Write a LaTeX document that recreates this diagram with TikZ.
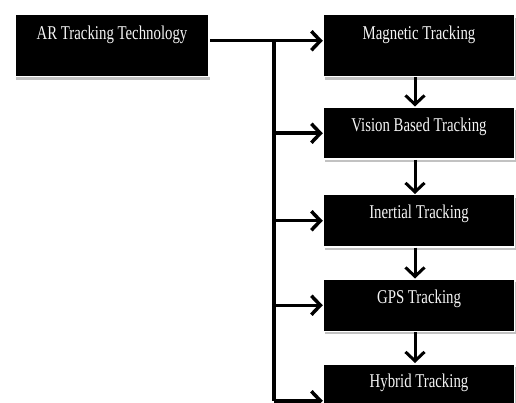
\documentclass[tikz,border=0pt]{standalone}
\usepackage{fontspec}
\newfontfamily\boxfont{Liberation Serif}[FakeStretch=0.76]
\usetikzlibrary{arrows.meta, positioning, shadows}

\begin{document}
\begin{tikzpicture}[x=1pt, y=1pt,
    box/.style = {draw=white, line width=1.5pt, fill=black, text=white!92!gray,
        font=\boxfont\fontsize{19.5}{20}\selectfont, inner xsep=0pt, inner ysep=0pt,
        drop shadow={fill=gray!80, opacity=0.6, shadow xshift=1pt, shadow yshift=-3pt}},
    tall/.style = {box, text height=25pt, text depth=37pt},
    short/.style = {box, minimum width=191pt, text height=24pt, text depth=28pt},
    link/.style = {line width=3.5pt, -{Straight Barb[length=9pt, width=19pt]}}]
    \useasboundingbox (0,0) rectangle (516,-403);
    \node[tall, minimum width=194pt, anchor=north] (ar) at (112,-14) {AR Tracking Technology};
    \node[tall, minimum width=191pt, right=113pt of ar] (mag) {Magnetic Tracking};
    \node[short] (vision) [below=29pt of mag] {Vision Based Tracking};
    \node[short] (inertial) [below=34pt of vision] {Inertial Tracking};
    \node[short] (gps) [below=31pt of inertial] {GPS Tracking};
    \node[short] (hybrid) [below=31pt of gps] {Hybrid Tracking};
    % fork of the branch line
    \coordinate (fork) at ([xshift=64pt, yshift=5pt]ar.east);
    \coordinate (hyb) at ([yshift=-11pt]hybrid.west);
    \draw[link] ([yshift=5pt]ar.east) -- ([yshift=5pt]mag.west);
    \draw[line width=3.5pt] (fork) -- (fork |- hyb);
    \draw[link] (fork |- vision.west) -- (vision.west);
    \draw[link] (fork |- inertial.west) -- (inertial.west);
    \draw[link] (fork |- gps.west) -- (gps.west);
    \draw[link] (fork |- hyb) -- (hyb);
    % chain down the right column
    \draw[link, line width=3pt] ([xshift=-4pt]mag.south) -- ([xshift=-4pt]vision.north);
    \draw[link, line width=3pt] ([xshift=-4pt]vision.south) -- ([xshift=-4pt]inertial.north);
    \draw[link, line width=3pt] ([xshift=-4pt]inertial.south) -- ([xshift=-4pt]gps.north);
    \draw[link, line width=3pt] ([xshift=-4pt]gps.south) -- ([xshift=-4pt]hybrid.north);
\end{tikzpicture}
\end{document}
